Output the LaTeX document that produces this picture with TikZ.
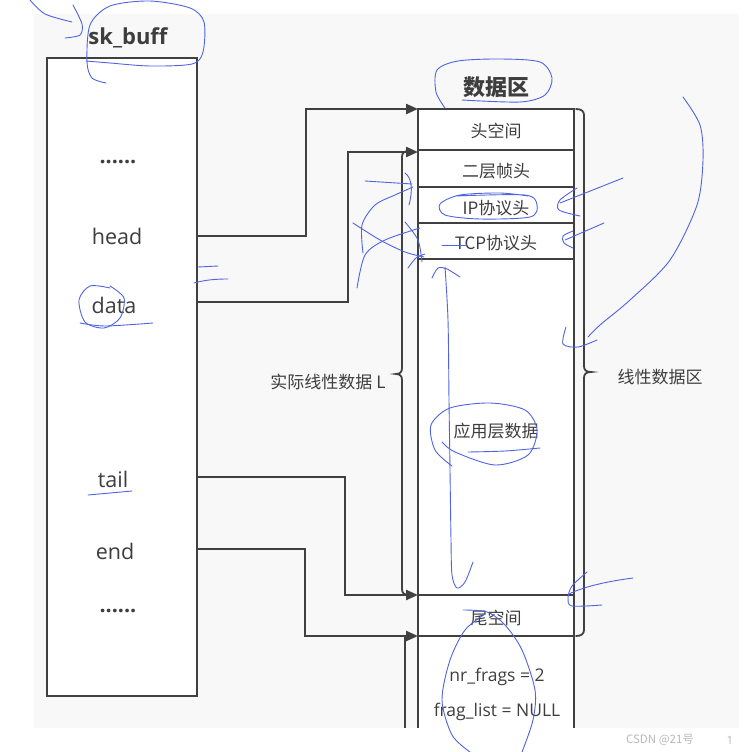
\documentclass[tikz,border=0pt]{standalone}
\usepackage{fontspec}
\setmainfont{Open Sans}
\newfontfamily\cjk{Noto Sans CJK SC}
\usetikzlibrary{arrows.meta}
\definecolor{bgc}{RGB}{248,248,248}
\definecolor{ln}{RGB}{64,64,64}
\definecolor{tx}{RGB}{62,62,62}
\definecolor{pen}{RGB}{80,100,225}
\definecolor{wm}{RGB}{185,185,185}
\tikzset{
  every node/.style={inner sep=0pt, text=tx},
  lbl/.style={font=\fontsize{21.5}{24}\selectfont},
  dotted label/.style={font=\bfseries\fontsize{21.5}{24}\selectfont},
  cell/.style={font=\cjk\fontsize{17}{20}\selectfont},
  small/.style={font=\fontsize{17.5}{20}\selectfont},
  frame/.style={draw=ln, line width=2.2pt},
  link/.style={draw=ln, line width=2.2pt, -{Triangle[length=12pt,width=10pt]}},
  plain/.style={draw=ln, line width=2.2pt},
  brace/.style={draw=ln, line width=1.8pt, line cap=round},
  scribble/.style={draw=pen, line width=0.9pt, line cap=round, line join=round},
}
\begin{document}
\begin{tikzpicture}[x=1pt,y=-1pt]
\useasboundingbox (0,0) rectangle (749,752);
\fill[white] (0,0) rectangle (749,752);
\fill[bgc] (34,14) rectangle (739,728);

% sk_buff structure
\node[font=\bfseries\fontsize{22}{24}\selectfont] (title) at (128,38) {sk\_buff};
\node[frame, fill=white, minimum width=150pt, minimum height=638pt, anchor=north west] (skb) at (46,57) {};
\node[dotted label] (dots1) at (118,162) {......};
\node[lbl] (head) at (117,236) {head};
\node[lbl] (data) at (114,305) {data};
\node[lbl] (tail) at (113,479) {tail};
\node[lbl] (end) at (115,551) {end};
\node[dotted label] (dots2) at (118,611) {......};

% data area
\node[font=\cjk\bfseries\fontsize{22}{24}\selectfont] (dtitle) at (496,87) {数据区};
\fill[white] (418,109) rectangle (574,728);
\node[minimum width=156pt, minimum height=41pt, anchor=north west] (hroom) at (418,109) {};
\node[minimum width=156pt, minimum height=37pt, anchor=north west] (l2) at (418,150) {};
\node[minimum width=156pt, minimum height=36pt, anchor=north west] (ip) at (418,187) {};
\node[minimum width=156pt, minimum height=36pt, anchor=north west] (tcp) at (418,223) {};
\node[minimum width=156pt, minimum height=336pt, anchor=north west] (app) at (418,259) {};
\node[minimum width=156pt, minimum height=41pt, anchor=north west] (troom) at (418,595) {};
\node[minimum width=156pt, minimum height=92pt, anchor=north west] (shinfo) at (418,636) {};
\draw[plain] (418,109) -- (574,109);
\draw[plain] (418,150) -- (574,150);
\draw[plain] (418,187) -- (574,187);
\draw[plain] (418,223) -- (574,223);
\draw[plain] (418,259) -- (574,259);
\draw[plain] (418,595) -- (574,595);
\draw[plain] (418,636) -- (574,636);
\draw[plain] (418,108) -- (418,728);
\draw[plain] (574,108) -- (574,728);

\node[cell] at (496,131) {头空间};
\node[cell] at (496,171) {二层帧头};
\node[cell] at (496,208) {IP协议头};
\node[cell] at (496,243) {TCP协议头};
\node[cell] at (496,431) {应用层数据};
\node[cell] at (496,618) {尾空间};
\node[small] at (497,677) {nr\_frags = 2};
\node[small] at (497,712) {frag\_list = NULL};

% braces
\draw[brace] (409,151) .. controls (404,151) and (402,153) .. (402,157) -- (402,368)
  .. controls (402,372) and (400,374) .. (396,374)
  .. controls (400,374) and (402,376) .. (402,380) -- (402,589)
  .. controls (402,593) and (404,595) .. (409,595);
\draw[brace] (576,109) .. controls (581,109) and (584,111) .. (584,115) -- (584,366)
  .. controls (584,370) and (586,372) .. (591,372)
  .. controls (586,372) and (584,374) .. (584,378) -- (584,630)
  .. controls (584,634) and (581,636) .. (576,636);
\node[cell] (lenL) at (328,382) {实际线性数据 L};
\node[cell] (linarea) at (660,377) {线性数据区};

% pointers
\coordinate (hs) at (196,236);
\coordinate (ds) at (196,302);
\coordinate (ts) at (196,477);
\coordinate (es) at (196,549);
\draw[link] (hs) -- (306,236) |- (hroom.north west);
\draw[link] (ds) -- (348,302) |- ([yshift=-2pt]l2.north west);
\draw[link] (ts) -- (345,477) |- (troom.north west);
\draw[link] (es) -- (305,549) |- (shinfo.north west);
\coordinate (fb) at (405,728);
\draw[plain] (fb) -- (405,636);

% watermark
\node[text=wm, font=\cjk\fontsize{11.5}{13}\selectfont] (wm1) at (660,740) {CSDN @21号};
\node[text=wm, font=\fontsize{11.5}{13}\selectfont] (wm2) at (730,740) {1};

% hand-drawn annotations
\draw[scribble] plot[smooth] coordinates {(30,0) (45,14) (72,22)};
\draw[scribble] plot[smooth] coordinates {(73,5) (82,24) (80,35) (65,38)};
\draw[scribble] plot[smooth] coordinates {(106,83) (92,78) (87,62) (90,25) (110,6) (150,1) (190,8) (204,22) (203,52) (192,64) (150,66) (110,63) (86,61)};
\draw[scribble] (198,267) -- (218,266);
\draw[scribble] (194,283) .. controls (205,280) and (215,279) .. (228,279);
\draw[scribble] plot[smooth] coordinates {(110,288) (90,286) (79,300) (85,322) (104,328) (120,318) (124,298) (110,286)};
\draw[scribble] plot[smooth] coordinates {(80,323) (105,326) (153,323)};
\draw[scribble] plot[smooth] coordinates {(88,495) (110,493) (132,491)};
\draw[scribble] plot[smooth] coordinates {(445,108) (436,92) (437,70) (458,61) (500,59) (540,62) (552,78) (545,95) (520,102) (462,100)};
\draw[scribble] plot[smooth] coordinates {(683,97) (700,125) (703,160) (697,205) (670,260) (630,300) (600,325) (588,337)};
\draw[scribble] plot[smooth] coordinates {(597,340) (578,347) (563,344) (566,327)};
\draw[scribble] (623,178) -- (560,203);
\draw[scribble] plot[smooth] coordinates {(577,188) (560,200) (559,210) (580,216)};
\draw[scribble] (604,223) -- (565,240);
\draw[scribble] plot[smooth] coordinates {(573,231) (563,236) (564,243) (573,248)};
\draw[scribble] plot[smooth] coordinates {(528,196) (500,193) (460,195) (440,204) (445,215) (480,219) (530,217) (537,205) (525,195) (455,196)};
\draw[scribble] (442,245) -- (467,245);
\draw[scribble] (365,181) -- (412,184);
\draw[scribble] (405,173) .. controls (412,178) and (413,190) .. (409,205);
\draw[scribble] plot[smooth] coordinates {(363,253) (362,225) (375,205) (395,195) (413,187)};
\draw[scribble] plot[smooth] coordinates {(353,223) (380,240) (405,252) (424,257)};
\draw[scribble] plot[smooth] coordinates {(357,288) (365,255) (385,240) (420,228)};
\draw[scribble] plot[smooth] coordinates {(405,222) (418,240) (422,262)};
\draw[scribble] plot[smooth] coordinates {(408,268) (416,258) (425,254)};
\draw[scribble] plot[smooth] coordinates {(432,278) (438,268) (447,269) (460,277)};
\draw[scribble] plot[smooth] coordinates {(445,267) (448,320) (449,400) (450,470) (451,540) (452,575) (457,588) (465,582) (473,562)};
\draw[scribble] plot[smooth] coordinates {(452,466) (435,450) (431,425) (450,408) (490,403) (525,410) (537,430) (528,455) (495,465) (455,452) (442,442)};
\draw[scribble] plot[smooth] coordinates {(468,452) (505,451) (540,448)};
\draw[scribble] (633,578) .. controls (610,581) and (585,586) .. (569,594);
\draw[scribble] plot[smooth] coordinates {(587,572) (572,586) (568,598) (572,606) (602,605)};
\draw[scribble] plot[smooth] coordinates {(463,610) (487,612) (505,625) (522,650) (535,690) (533,720) (522,752)};
\draw[scribble] plot[smooth] coordinates {(485,614) (465,630) (450,660) (442,700) (452,735) (470,752)};
\end{tikzpicture}
\end{document}
